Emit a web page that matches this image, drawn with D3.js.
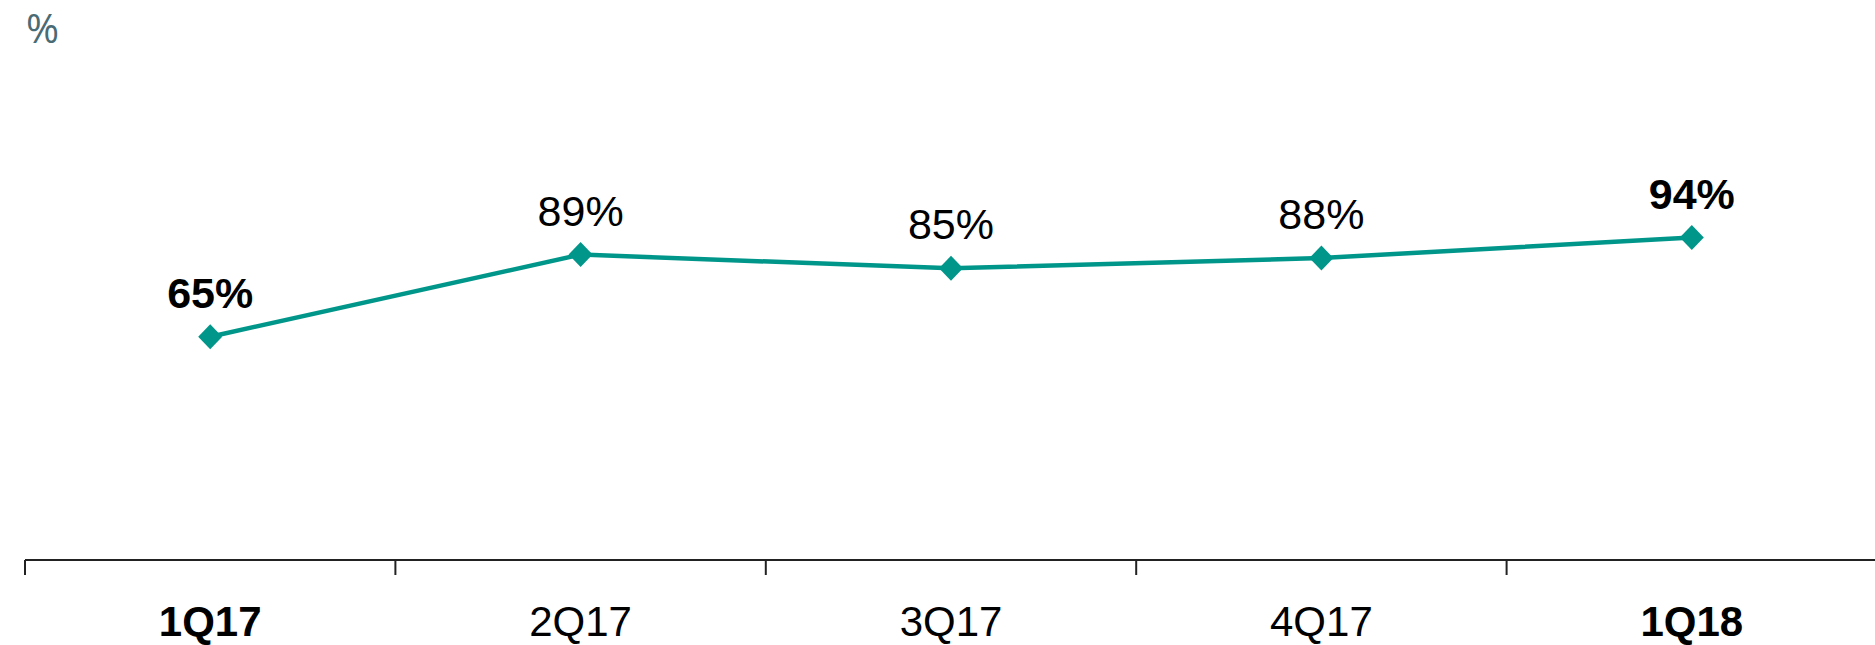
<!DOCTYPE html>
<html>
<head>
<meta charset="utf-8">
<script src="https://cdn.jsdelivr.net/npm/d3@7"></script>
<style>
  html, body { margin: 0; padding: 0; background: #fff; }
  svg { display: block; }
</style>
</head>
<body>
<svg id="chart" width="1875" height="645"></svg>
<script>
// Quarterly share, in percent
const quarters = ["1Q17", "2Q17", "3Q17", "4Q17", "1Q18"];
const values = [65, 89, 85, 88, 94];
const boldQuarters = ["1Q17", "1Q18"];
const unitLabel = "%";

const W = 1875, H = 645;
const svg = d3.select("#chart");
const teal = "#00968a";
const font = "'Liberation Sans', Arial, sans-serif";

const x = d3.scaleBand().domain(quarters).range([25, 1877]).padding(0);
const y = d3.scaleLinear().domain([0, 100]).range([559, 217]);

// unit caption
svg.append("text")
  .attr("x", 26).attr("y", 43)
  .attr("font-family", "'Open Sans', sans-serif")
  .attr("font-size", 40)
  .attr("fill", "#4a6b74")
  .text(unitLabel);

// category axis
const axisG = svg.append("g").attr("transform", `translate(0,${y(0) + 1})`);
axisG.append("line")
  .attr("x1", x.range()[0]).attr("x2", W)
  .attr("stroke", "#222").attr("stroke-width", 2);
axisG.selectAll("line.tick")
  .data(quarters)
  .join("line")
  .attr("class", "tick")
  .attr("x1", d => x(d)).attr("x2", d => x(d))
  .attr("y1", 0).attr("y2", 15)
  .attr("stroke", "#222").attr("stroke-width", 2);
axisG.selectAll("text")
  .data(quarters)
  .join("text")
  .attr("x", d => x(d) + x.bandwidth() / 2)
  .attr("y", 76)
  .attr("text-anchor", "middle")
  .attr("font-family", font)
  .attr("font-size", 42)
  .attr("font-weight", d => boldQuarters.includes(d) ? "bold" : "normal")
  .attr("fill", "#000")
  .text(d => d);

const pts = quarters.map((q, i) => ({ q, v: values[i] }));
const cx = d => x(d.q) + x.bandwidth() / 2;

// series line
svg.append("path")
  .datum(pts)
  .attr("fill", "none")
  .attr("stroke", teal)
  .attr("stroke-width", 4.5)
  .attr("d", d3.line().x(cx).y(d => y(d.v)));

// diamond markers
svg.selectAll("path.marker")
  .data(pts)
  .join("path")
  .attr("class", "marker")
  .attr("fill", teal)
  .attr("transform", d => `translate(${cx(d)},${y(d.v)})`)
  .attr("d", "M0,-12.5L12,0L0,12.5L-12,0Z");

// value labels
svg.selectAll("text.value")
  .data(pts)
  .join("text")
  .attr("class", "value")
  .attr("x", cx)
  .attr("y", d => y(d.v) - 29)
  .attr("text-anchor", "middle")
  .attr("font-family", font)
  .attr("font-size", 43)
  .attr("font-weight", d => boldQuarters.includes(d.q) ? "bold" : "normal")
  .attr("fill", "#000")
  .text(d => d.v + "%");
</script>
</body>
</html>
